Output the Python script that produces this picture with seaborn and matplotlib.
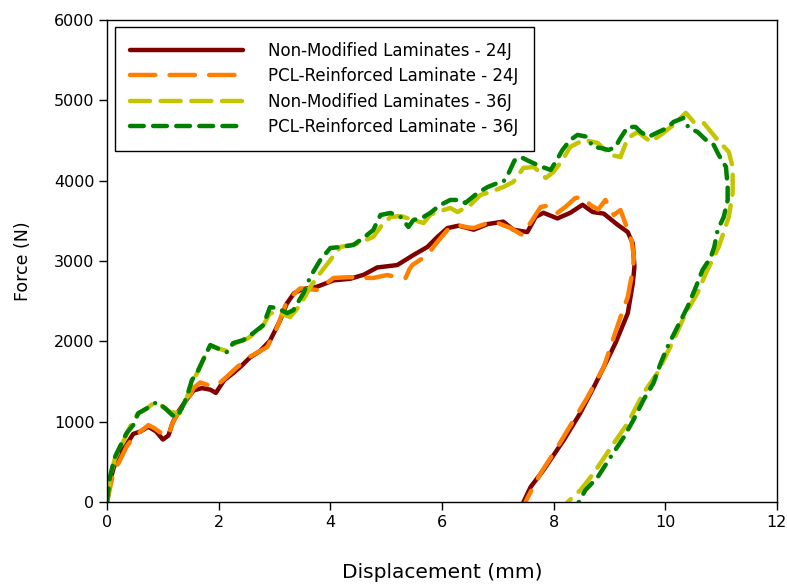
import matplotlib
matplotlib.use("Agg")
import matplotlib.pyplot as plt
import seaborn as sns
import pandas as pd

# Force-displacement curves.
nm24_x = [0, 0.05, 0.12, 0.2, 0.35, 0.47, 0.6, 0.74, 0.88, 1.0, 1.1, 1.17, 1.27, 1.43, 1.55, 1.7, 1.85, 1.95,
          2.1, 2.25, 2.4, 2.56, 2.74, 2.92, 3.1, 3.22, 3.35, 3.5, 3.76, 4.06, 4.36, 4.6, 4.84, 5.2, 5.49, 5.74,
          5.92, 6.1, 6.3, 6.57, 6.82, 7.1, 7.28, 7.53, 7.68, 7.82, 8.07, 8.3, 8.52, 8.7, 8.9, 9.15, 9.33, 9.42,
          9.45, 9.42, 9.33, 9.11, 8.9, 8.72, 8.48, 8.18, 7.82, 7.59, 7.46]
nm24_y = [0, 250, 430, 560, 720, 850, 880, 940, 880, 780, 830, 980, 1120, 1280, 1390, 1420, 1400, 1360,
          1520, 1600, 1690, 1800, 1880, 2010, 2260, 2470, 2600, 2650, 2680, 2760, 2780, 2830, 2920, 2950, 3075, 3175,
          3300, 3410, 3440, 3390, 3460, 3490, 3390, 3360, 3550, 3600, 3530, 3600, 3700, 3610, 3590, 3450, 3360, 3220,
          2930, 2720, 2350, 1980, 1680, 1430, 1110, 770, 400, 190, 0]

pcl24_x = [0, 0.06, 0.11, 0.23, 0.35, 0.47, 0.6, 0.74, 0.85, 0.95, 1.1, 1.17, 1.31, 1.43, 1.55, 1.67, 1.8, 1.97,
           2.08, 2.33, 2.56, 2.87, 3.05, 3.23, 3.46, 3.77, 4.06, 4.36, 4.54, 4.77, 5.02, 5.2, 5.35, 5.42, 5.47,
           5.74, 5.92, 6.1, 6.28, 6.45, 6.57, 6.82, 7.0, 7.23, 7.44, 7.62, 7.77, 7.9, 8.07, 8.21, 8.39, 8.52, 8.66,
           8.8, 8.93, 9.08, 9.2, 9.33, 9.4, 9.44, 9.42, 9.33, 9.2, 9.08, 8.9, 8.61, 8.36, 8.07, 7.77, 7.53, 7.5]
pcl24_y = [0, 200, 360, 520, 690, 810, 880, 960, 920, 870, 830, 980, 1145, 1240, 1420, 1490, 1460, 1456,
           1520, 1680, 1810, 1930, 2180, 2515, 2660, 2640, 2790, 2800, 2790, 2790, 2826, 2800, 2790, 2900, 2950,
           3075, 3240, 3386, 3448, 3420, 3411, 3473, 3473, 3411, 3324, 3510, 3672, 3690, 3600, 3672, 3784, 3797, 3697,
           3640, 3760, 3573, 3635, 3386, 3250, 3050, 2888, 2552, 2303, 2054, 1680, 1307, 1021, 685, 361, 50, 0]

nm36_x = [0, 0.05, 0.14, 0.29, 0.41, 0.55, 0.7, 0.83, 0.98, 1.13, 1.31, 1.43, 1.52, 1.61, 1.72, 1.85, 1.97,
          2.15, 2.3, 2.5, 2.69, 2.8, 2.92, 3.1, 3.28, 3.46, 3.64, 3.82, 4.0, 4.18, 4.45, 4.77, 4.93, 5.08, 5.26,
          5.49, 5.67, 5.8, 5.92, 6.15, 6.28, 6.51, 6.69, 6.87, 7.1, 7.28, 7.46, 7.65, 7.86, 8.0, 8.16, 8.3, 8.54,
          8.79, 9.02, 9.2, 9.33, 9.51, 9.74, 9.92, 10.15, 10.37, 10.51, 10.69, 10.94, 11.14, 11.21, 11.21, 11.14,
          10.96, 10.73, 10.58, 10.37, 10.15, 9.86, 9.61, 9.33, 9.08, 8.72, 8.48, 8.25]
nm36_y = [0, 300, 540, 750, 935, 1100, 1160, 1230, 1200, 1120, 1108, 1300, 1500, 1600, 1770, 1950, 1917,
          1880, 1980, 2030, 2120, 2200, 2353, 2353, 2303, 2452, 2676, 2850, 3012, 3175, 3210, 3299, 3450, 3548, 3560,
          3510, 3473, 3580, 3610, 3660, 3610, 3697, 3822, 3859, 3921, 3984, 4158, 4170, 4033, 4108, 4257, 4420, 4507,
          4469, 4320, 4295, 4530, 4606, 4482, 4569, 4693, 4843, 4731, 4718, 4507, 4357, 4170, 3847, 3548,
          3175, 2850, 2602, 2353, 2017, 1606, 1357, 983, 734, 361, 150, 0]

pcl36_x = [0, 0.05, 0.14, 0.23, 0.35, 0.47, 0.56, 0.72, 0.89, 1.04, 1.17, 1.25, 1.34, 1.43, 1.52, 1.61, 1.72,
           1.85, 1.97, 2.15, 2.26, 2.44, 2.62, 2.8, 2.92, 3.05, 3.23, 3.34, 3.52, 3.64, 3.82, 4.0, 4.18, 4.41, 4.59,
           4.77, 4.9, 5.08, 5.26, 5.4, 5.49, 5.67, 5.79, 5.97, 6.15, 6.33, 6.42, 6.64, 6.82, 7.0, 7.1, 7.2, 7.3,
           7.41, 7.59, 7.8, 7.95, 8.09, 8.16, 8.3, 8.43, 8.61, 8.7, 8.84, 8.99, 9.11, 9.2, 9.33, 9.47, 9.56, 9.7,
           9.88, 10.04, 10.15, 10.33, 10.42, 10.58, 10.73, 10.87, 10.96, 11.09, 11.12, 11.12, 11.05, 10.94, 10.88,
           10.82, 10.67, 10.55, 10.4, 10.22, 10.04, 9.92, 9.79, 9.61, 9.43, 9.26, 9.02, 8.79, 8.57, 8.45]
pcl36_y = [0, 310, 560, 690, 860, 960, 1108, 1170, 1245, 1170, 1083, 1058, 1170, 1307, 1519, 1606, 1768,
           1955, 1917, 1867, 1980, 2017, 2104, 2204, 2427, 2415, 2353, 2390, 2602, 2801, 3012, 3162, 3175, 3199, 3286,
           3386, 3573, 3598, 3548, 3424, 3510, 3548, 3598, 3697, 3760, 3760, 3722, 3847, 3921, 3971, 3984, 4100, 4250,
           4295, 4233, 4170, 4133, 4295, 4382, 4507, 4569, 4544, 4420, 4407, 4382, 4420, 4531, 4668, 4668, 4606, 4544,
           4606, 4656, 4731, 4780, 4656, 4606, 4507, 4444, 4320, 4170, 3921, 3760, 3548, 3386, 3175,
           3050, 2888, 2676, 2427, 2180, 1930, 1730, 1481, 1270, 1021, 810, 560, 311, 150, 0]

labels = ["Non-Modified Laminates - 24J", "PCL-Reinforced Laminate - 24J",
          "Non-Modified Laminates - 36J", "PCL-Reinforced Laminate - 36J"]
colors = ["#800000", "#ff8000", "#c4c400", "#008000"]
styles = ["-", (0, (5.7, 3.2)), (0, (4.5, 2.4)),
          (0, (3.1, 2.1, 3.1, 2.1, 3.1, 2.1, 3.1, 2.1, 3.1, 2.1, 0.01, 2.1))]
LINEWIDTH = 3.2

sns.set_style("ticks")
plt.rcParams["font.family"] = ["DejaVu Sans"]
plt.rcParams["text.color"] = "black"
plt.rcParams["axes.labelcolor"] = "black"

fig, ax = plt.subplots(figsize=(7.87, 5.84), dpi=100)
fig.subplots_adjust(left=0.136, right=0.987, top=0.966, bottom=0.140)

curves = [(nm24_x, nm24_y), (pcl24_x, pcl24_y), (nm36_x, nm36_y), (pcl36_x, pcl36_y)]
for (xs, ys), lab, col, ls in zip(curves, labels, colors, styles):
    df = pd.DataFrame({"Displacement": xs, "Force": ys})
    sns.lineplot(data=df, x="Displacement", y="Force", sort=False, estimator=None, ax=ax,
                 color=col, linestyle=ls, linewidth=LINEWIDTH, label=lab,
                 solid_capstyle="round", dash_capstyle="round", solid_joinstyle="round")

ax.set_xlim(0, 12)
ax.set_ylim(0, 6000)
ax.set_xticks(range(0, 13, 2))
ax.set_yticks(range(0, 6001, 1000))
ax.tick_params(direction="out", length=6, width=1, top=False, right=False,
               labelsize=11.5, colors="black", pad=3)
for sp in ax.spines.values():
    sp.set_visible(True)
    sp.set_color("black")
    sp.set_linewidth(1)

ax.set_xlabel("Displacement (mm)", fontsize=14.5, labelpad=24, color="black")
ax.set_ylabel("Force (N)", fontsize=12.5, labelpad=16, color="black")

leg = ax.legend(loc="upper left", bbox_to_anchor=(0.012, 0.986), borderaxespad=0,
                fontsize=12, handlelength=6.8, handletextpad=1.5, labelspacing=0.45,
                borderpad=0.9, frameon=True, fancybox=False, markerfirst=True)
leg.get_frame().set_edgecolor("black")
leg.get_frame().set_linewidth(1)
leg.get_frame().set_alpha(1)
for t in leg.get_texts():
    t.set_color("black")

fig.savefig("out.png", dpi=100)
